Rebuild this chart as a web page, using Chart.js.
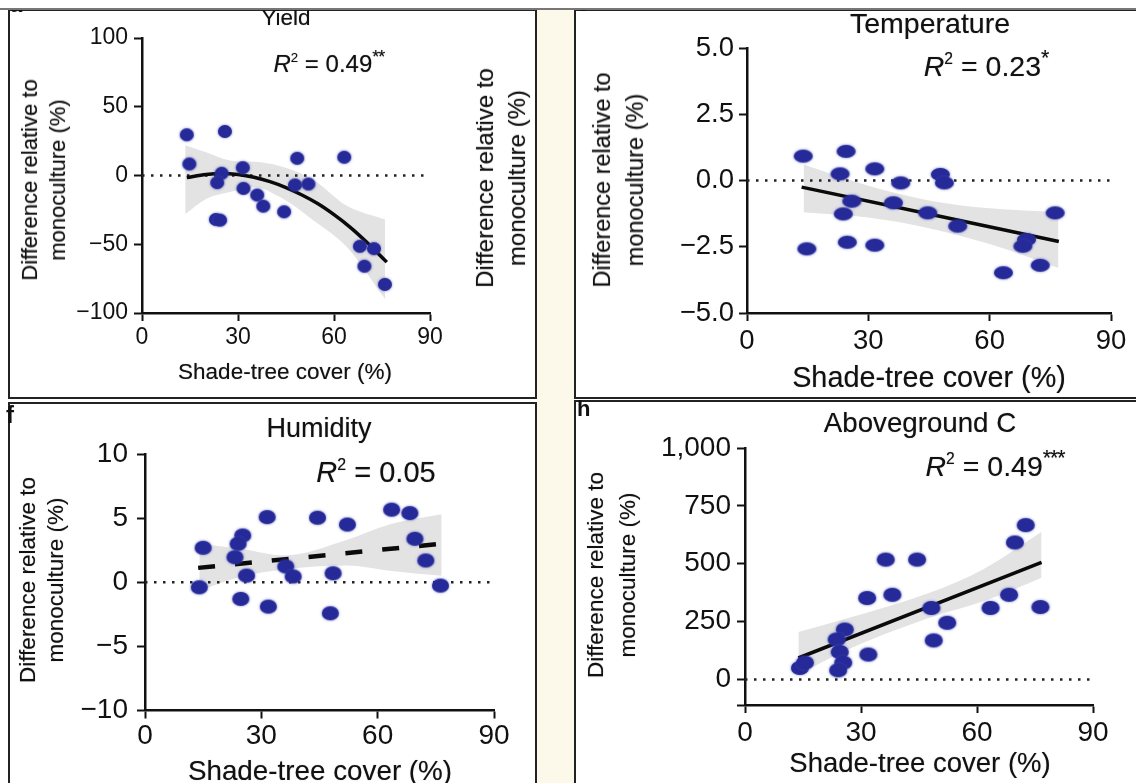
<!DOCTYPE html>
<html>
<head>
<meta charset="utf-8">
<script src="https://cdn.jsdelivr.net/npm/chart.js@4.4.1/dist/chart.umd.min.js"></script>
<style>
  body { margin: 0; width: 1136px; height: 783px; position: relative; overflow: hidden; background: #fff;
         font-family: "Liberation Sans", Arial, sans-serif; color: #111; }
  .box { position: absolute; border: 2px solid #222; box-sizing: border-box; }
  canvas { position: absolute; }
  .t { position: absolute; transform: translate(-50%, -50%); white-space: nowrap; line-height: 1;
       text-shadow: 0 0 1px rgba(0,0,0,0.45); }
  .yt { position: absolute; transform: translate(-50%, -50%) rotate(-90deg); white-space: nowrap; text-align: center;
        text-shadow: 0 0 1px rgba(0,0,0,0.45); }
  .sup { font-size: 0.55em; position: relative; top: -0.75em; }
  .star { font-size: 0.75em; position: relative; top: -0.5em; letter-spacing: -0.05em; }
  .lt { position: absolute; font-weight: bold; line-height: 1; }
</style>
</head>
<body>
<div style="position:absolute;left:537px;top:9px;width:38px;height:774px;background:#fdf9ea"></div>
<div class="box" style="left:8px;top:9px;width:529px;height:390px"></div>
<div class="box" style="left:574px;top:9px;width:600px;height:390px"></div>
<div class="box" style="left:8px;top:402px;width:529px;height:400px"></div>
<div class="box" style="left:574px;top:400px;width:600px;height:400px"></div>

<canvas id="c1" width="525" height="384" style="left:10px;top:12px"></canvas>
<canvas id="c2" width="558" height="384" style="left:578px;top:12px"></canvas>
<canvas id="c3" width="525" height="378" style="left:10px;top:405px"></canvas>
<canvas id="c4" width="558" height="379" style="left:578px;top:404px"></canvas>

<!-- panel letters (mostly cut off) -->
<div class="lt" style="left:10px;top:-6px;font-size:22px">a</div>
<div class="lt" style="left:478px;top:-9px;font-size:22px">b</div>
<div class="lt" style="left:577px;top:-7px;font-size:22px">c</div>
<div class="lt" style="left:6px;top:403px;font-size:24px">f</div>
<div class="lt" style="left:577px;top:398px;font-size:22px">h</div>

<!-- Yield -->
<div class="t" style="left:286px;top:18px;font-size:22.5px">Yield</div>
<div class="t" style="left:329px;top:64px;font-size:24px"><i>R</i><span class="sup">2</span> = 0.49<span class="star">**</span></div>
<div class="yt" style="left:44px;top:180px;font-size:22px;line-height:28px">Difference relative to<br>monoculture (%)</div>
<div class="t" style="left:285px;top:372px;font-size:22.5px">Shade-tree cover (%)</div>
<div class="yt" style="left:501px;top:178px;font-size:24px;line-height:32px">Difference relative to<br>monoculture (%)</div>

<!-- Temperature -->
<div class="t" style="left:930px;top:23px;font-size:28.5px">Temperature</div>
<div class="t" style="left:986px;top:66px;font-size:28.5px"><i>R</i><span class="sup">2</span> = 0.23<span class="star">*</span></div>
<div class="yt" style="left:619px;top:180px;font-size:23.5px;line-height:33px">Difference relative to<br>monoculture (%)</div>
<div class="t" style="left:929px;top:377px;font-size:28.8px">Shade-tree cover (%)</div>

<!-- Humidity -->
<div class="t" style="left:319px;top:428px;font-size:27px">Humidity</div>
<div class="t" style="left:376px;top:472px;font-size:29px"><i>R</i><span class="sup">2</span> = 0.05</div>
<div class="yt" style="left:42px;top:580px;font-size:22.5px;line-height:28px">Difference relative to<br>monoculture (%)</div>
<div class="t" style="left:320px;top:771px;font-size:27.8px">Shade-tree cover (%)</div>

<!-- Aboveground C -->
<div class="t" style="left:920px;top:423px;font-size:27.7px">Aboveground C</div>
<div class="t" style="left:995px;top:466px;font-size:28.5px"><i>R</i><span class="sup">2</span> = 0.49<span class="star">***</span></div>
<div class="yt" style="left:612px;top:575px;font-size:22.5px;line-height:32px">Difference relative to<br>monoculture (%)</div>
<div class="t" style="left:920px;top:763px;font-size:27.5px">Shade-tree cover (%)</div>

<div style="position:absolute;left:0;top:0;width:1136px;height:8px;background:#fff;z-index:5"></div>
<div style="position:absolute;left:0;top:8px;width:1136px;height:2px;background:#777;z-index:6"></div>

<script>
// shared x axis
const xTicks = [0, 30, 60, 90];

// a: yield
const yieldCover = [14.0, 14.8, 25.9, 24.9, 23.5, 23.1, 24.4, 31.5, 31.7, 36.0, 37.9, 44.4, 48.5, 47.8, 52.0, 63.2, 68.1, 72.5, 69.5, 75.9];
const yieldDiff = [29.6, 8.4, 32, 1.6, -5.2, -32, -32.5, 5.7, -9.4, -14.2, -22.3, -26.4, 12.5, -6.9, -6.2, 13.3, -51.5, -53.2, -66, -79.2];
const yieldFitX = [14, 20, 25, 30, 35, 40, 45, 50, 55, 60, 65, 70, 76.5];
const yieldFitY = [-1.5, 0.8, 1.5, 0.7, -1.3, -4.5, -8.8, -14.2, -20.6, -28.5, -37.5, -48, -63];
const yieldBandX = [13.5, 20, 27.5, 35, 43, 53.5, 64, 76];
const yieldBandHi = [22, 17, 11, 10, 7, -3, -22, -32];
const yieldBandLo = [-28, -17, -12, -8.5, -15.5, -32.5, -52, -90];
const yieldTicks = [-100, -50, 0, 50, 100];

// c: temperature
const tempCover = [13.9, 14.8, 24.5, 23.0, 25.9, 23.8, 24.8, 31.6, 31.6, 38.0, 36.2, 47.8, 48.8, 44.7, 52.1, 69.1, 68.2, 76.2, 63.4, 72.5];
const tempDiff = [0.92, -2.58, 1.1, 0.25, -0.78, -1.26, -2.33, 0.44, -2.44, -0.09, -0.84, 0.23, -0.09, -1.22, -1.72, -2.23, -2.48, -1.22, -3.48, -3.2];
const tempFitX = [13.5, 77.1];
const tempFitY = [-0.25, -2.3];
const tempBandX = [14, 30, 45, 60, 77];
const tempBandHi = [0.6, -0.2, -0.75, -1.05, -1.2];
const tempBandLo = [-1.2, -1.4, -1.8, -2.4, -3.3];
const tempTicks = [-5, -2.5, 0, 2.5, 5];

// f: humidity
const humCover = [15.0, 14.0, 31.5, 25.2, 24.0, 23.2, 26.2, 24.7, 31.8, 36.3, 38.2, 44.5, 48.5, 47.8, 52.2, 63.6, 68.3, 69.6, 72.4, 76.2];
const humDiff = [2.69, -0.39, 5.08, 3.65, 3.0, 1.95, 0.52, -1.3, -1.9, 1.23, 0.45, 5.03, 0.7, -2.42, 4.5, 5.66, 5.39, 3.39, 1.7, -0.26];
const humFitX = [13.7, 76.2];
const humFitY = [1.12, 3.0];
const humBandX = [14, 25, 36, 52, 63, 76.5];
const humBandHi = [3.0, 2.6, 2.1, 3.3, 4.5, 5.3];
const humBandLo = [-0.65, 0.45, 1.0, 1.3, 0.9, 0.5];
const humTicks = [-10, -5, 0, 5, 10];

// h: aboveground C
const carbonCover = [14.2, 15.5, 25.8, 23.7, 24.5, 25.4, 24.1, 31.6, 31.9, 36.4, 38.1, 44.5, 48.2, 48.8, 52.3, 63.5, 68.3, 69.8, 72.6, 76.4];
const carbonDiff = [50, 73, 216, 173, 119, 73, 40, 352, 108, 518, 366, 518, 309, 169, 245, 309, 366, 592, 667, 313];
const carbonFitX = [13.8, 76.7];
const carbonFitY = [93, 506];
const carbonBandX = [13.8, 26, 47, 62, 76.7];
const carbonBandHi = [205, 262, 370, 480, 638];
const carbonBandLo = [20, 125, 262, 340, 440];
const carbonTicks = [-110, 0, 250, 500, 750, 1000];

Chart.defaults.font.family = '"Liberation Sans", Arial, sans-serif';
Chart.defaults.color = '#111';

// blurred oval marker like the scanned figure
function dotImage(w, h) {
    const c = document.createElement('canvas');
    c.width = w + 6; c.height = h + 6;
    const g = c.getContext('2d');
    g.fillStyle = '#262a98';
    g.shadowColor = 'rgba(70,80,190,0.8)';
    g.shadowBlur = 2.5;
    g.beginPath();
    g.ellipse(c.width / 2, c.height / 2, w / 2, h / 2, 0, 0, Math.PI * 2);
    g.fill();
    return c;
}

const minus = v => (v < 0 ? '\u2212' : '') + Math.abs(v);

function axis(min, max, ticks, fmt, size, fit, isX, pad) {
    return {
        type: 'linear', min: min, max: max,
        afterBuildTicks: s => { s.ticks = ticks.map(v => ({ value: v })); },
        afterFit: s => { if (isX) s.height = fit; else s.width = fit; },
        grid: { drawOnChartArea: false, drawTicks: true, tickLength: 8, tickWidth: 2, color: '#111' },
        border: { display: true, color: '#111', width: 2.5 },
        ticks: { font: { size: size }, padding: pad, maxRotation: 0, autoSkip: false, callback: v => fmt(v) }
    };
}

function makeChart(id, p) {
    const pts = p.x.map((x, i) => ({ x: x, y: p.y[i] }));
    const fit = p.fitX.map((x, i) => ({ x: x, y: p.fitY[i] }));
    const hi = p.bandX.map((x, i) => ({ x: x, y: p.bandHi[i] }));
    const lo = p.bandX.map((x, i) => ({ x: x, y: p.bandLo[i] }));
    return new Chart(document.getElementById(id), {
        type: 'scatter',
        data: {
            datasets: [
                { data: pts, pointStyle: p.dot, pointRadius: 7, showLine: false },
                { data: fit, showLine: true, borderColor: '#0a0a0a', borderWidth: p.lineW || 3.5, borderDash: p.dash || [],
                  pointRadius: 0, cubicInterpolationMode: 'monotone' },
                { data: [{ x: 0, y: 0 }, { x: 90, y: 0 }], showLine: true, borderColor: '#222', borderWidth: 2.5,
                  borderDash: [2.5, 6.5], pointRadius: 0 },
                { data: hi, showLine: true, borderColor: 'rgba(0,0,0,0)', borderWidth: 1, pointRadius: 0,
                  fill: '+1', backgroundColor: '#e3e3e3', cubicInterpolationMode: 'monotone' },
                { data: lo, showLine: true, borderColor: 'rgba(0,0,0,0)', borderWidth: 1, pointRadius: 0,
                  fill: false, cubicInterpolationMode: 'monotone' }
            ]
        },
        options: {
            responsive: false,
            animation: false,
            events: [],
            layout: { autoPadding: false, padding: { left: 0, top: p.padTop, right: p.padRight, bottom: 0 } },
            plugins: { legend: { display: false }, tooltip: { enabled: false } },
            scales: {
                x: axis(0, 90, xTicks, minus, p.font, p.xH, true, p.xPad),
                y: axis(p.yMin, p.yMax, p.yTicks, p.fmt, p.font, p.yW, false, p.yPad)
            }
        }
    });
}

makeChart('c1', {
    x: yieldCover, y: yieldDiff, fitX: yieldFitX, fitY: yieldFitY,
    bandX: yieldBandX, bandHi: yieldBandHi, bandLo: yieldBandLo,
    dot: dotImage(14, 13), yMin: -100, yMax: 100, yTicks: yieldTicks, fmt: minus,
    font: 23, padTop: 26, padRight: 105, yW: 132, xH: 83, xPad: 3, yPad: 6
});

makeChart('c2', {
    x: tempCover, y: tempDiff, fitX: tempFitX, fitY: tempFitY,
    bandX: tempBandX, bandHi: tempBandHi, bandLo: tempBandLo,
    dot: dotImage(19, 13), yMin: -5, yMax: 5, yTicks: tempTicks,
    fmt: v => (v < 0 ? '\u2212' : '') + Math.abs(v).toFixed(1),
    font: 27.5, padTop: 36, padRight: 25, yW: 169, xH: 83, xPad: 4, yPad: 5
});

makeChart('c3', {
    x: humCover, y: humDiff, fitX: humFitX, fitY: humFitY,
    bandX: humBandX, bandHi: humBandHi, bandLo: humBandLo,
    dot: dotImage(17, 14), yMin: -10, yMax: 10, yTicks: humTicks, fmt: minus,
    dash: [17, 20], lineW: 4.5,
    font: 28, padTop: 49, padRight: 41, yW: 135, xH: 72.5, xPad: 1, yPad: 9
});

makeChart('c4', {
    x: carbonCover, y: carbonDiff, fitX: carbonFitX, fitY: carbonFitY,
    bandX: carbonBandX, bandHi: carbonBandHi, bandLo: carbonBandLo,
    dot: dotImage(18, 14), yMin: -110, yMax: 1000, yTicks: carbonTicks,
    fmt: v => (v < 0 ? '' : v.toLocaleString('en-US')),
    font: 28, padTop: 44, padRight: 43, yW: 167, xH: 78, xPad: 3, yPad: 6
});
</script>
</body>
</html>
